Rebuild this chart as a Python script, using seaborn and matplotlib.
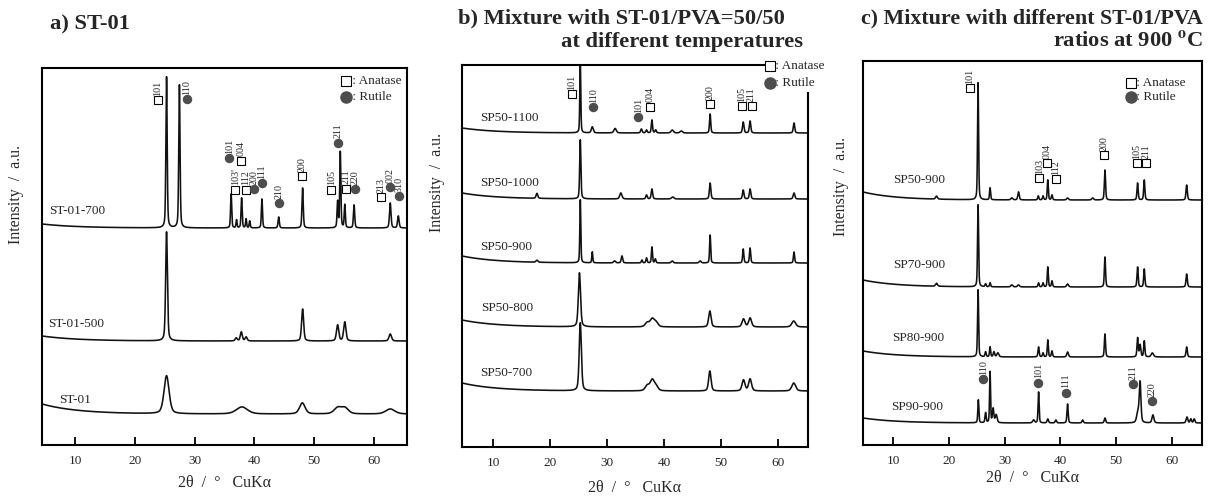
import numpy as np
import pandas as pd
import matplotlib
matplotlib.use("Agg")
import matplotlib.pyplot as plt
import seaborn as sns

sns.set_theme(style="white")
plt.rcParams['font.family'] = ['Liberation Serif', 'DejaVu Serif']
plt.rcParams['mathtext.fontset'] = 'stix'

# ---------------- data (2θ in degrees, intensity in arbitrary units) ----------------
# Panel a) ST-01
a_names = ["ST-01-700", "ST-01-500", "ST-01"]
a_base = [217, 104, 31]
a_rise = [4, 5, 10]
st01_700_pos = [25.3, 27.45, 36.1, 37.0, 37.85, 38.6, 39.2, 41.25, 44.05, 48.05, 53.9, 54.35, 55.1, 56.65, 62.7, 64.05]
st01_700_h = [151, 143, 34, 8, 30, 9, 7, 29, 11, 40, 26, 76, 23, 23, 25, 12]
st01_700_w = [0.25, 0.25, 0.22, 0.2, 0.22, 0.2, 0.2, 0.22, 0.25, 0.25, 0.22, 0.22, 0.22, 0.25, 0.3, 0.3]
st01_500_pos = [25.3, 36.95, 37.8, 38.6, 48.05, 53.9, 55.1, 62.7]
st01_500_h = [109, 3, 9, 4, 32, 16, 19, 7]
st01_500_w = [0.35, 0.4, 0.4, 0.4, 0.4, 0.45, 0.45, 0.5]
st01_pos = [25.3, 37.9, 48.0, 53.9, 55.1, 62.7]
st01_h = [38, 7, 11, 6, 6, 5]
st01_w = [1.0, 2.2, 1.1, 1.4, 1.4, 1.8]

# Panel b) ST-01/PVA = 50/50 at different temperatures
b_names = ["SP50-1100", "SP50-1000", "SP50-900", "SP50-800", "SP50-700"]
b_base = [314, 248, 184, 120, 56]
b_rise = [5, 6, 7, 7, 8]
sp50_1100_pos = [25.3, 27.4, 31.4, 36.0, 36.9, 37.85, 38.5, 41.4, 43.0, 48.05, 53.85, 55.05, 62.75]
sp50_1100_h = [72, 6, 4.5, 4, 3, 13, 3, 3, 2, 19, 11, 12, 10]
sp50_1100_w = [0.2, 0.4, 0.5, 0.3, 0.3, 0.25, 0.3, 0.5, 0.5, 0.25, 0.3, 0.3, 0.3]
sp50_1000_pos = [17.7, 25.3, 32.4, 36.9, 37.85, 41.5, 48.05, 53.85, 55.05, 62.75]
sp50_1000_h = [5, 59, 6, 4, 10, 2, 16, 9, 10, 6]
sp50_1000_w = [0.35, 0.25, 0.45, 0.3, 0.3, 0.5, 0.3, 0.3, 0.3, 0.35]
sp50_900b_pos = [17.7, 25.3, 27.4, 31.3, 32.6, 36.1, 36.9, 37.85, 38.45, 41.4, 46.3, 48.05, 53.85, 55.05, 62.75]
sp50_900b_h = [2, 63, 11, 2, 7, 3, 5, 16, 4, 2, 2, 28, 14, 15, 11]
sp50_900b_w = [0.4, 0.2, 0.2, 0.4, 0.3, 0.25, 0.25, 0.22, 0.25, 0.4, 0.4, 0.22, 0.25, 0.25, 0.25]
sp50_800_pos = [25.15, 37.0, 37.9, 38.6, 48.0, 53.9, 55.05, 62.7]
sp50_800_h = [54, 4, 8, 4, 16, 8, 9, 6]
sp50_800_w = [0.45, 0.8, 0.9, 0.8, 0.5, 0.6, 0.6, 0.8]
sp50_700_pos = [25.3, 37.0, 37.9, 38.6, 48.0, 53.9, 55.05, 62.7]
sp50_700_h = [68, 5, 11, 4, 20, 11, 12, 8]
sp50_700_w = [0.45, 0.8, 0.9, 0.8, 0.5, 0.6, 0.6, 0.8]

# Panel c) different ST-01/PVA ratios at 900 °C
c_names = ["SP50-900", "SP70-900", "SP80-900", "SP90-900"]
c_base = [245, 158, 88, 22]
c_rise = [8, 7, 6, 5]
sp50_900c_pos = [17.8, 25.25, 27.4, 31.3, 32.5, 36.05, 36.9, 37.75, 38.5, 41.3, 45.8, 48.0, 53.85, 55.05, 62.65]
sp50_900c_h = [3, 117, 12, 2, 8, 4, 4, 20, 5, 2, 2, 30, 17, 20, 15]
sp50_900c_w = [0.4, 0.22, 0.22, 0.4, 0.3, 0.25, 0.25, 0.22, 0.25, 0.4, 0.4, 0.25, 0.25, 0.25, 0.28]
sp70_900_pos = [17.8, 25.25, 26.6, 27.4, 31.3, 32.5, 36.1, 36.9, 37.75, 38.5, 41.3, 48.0, 53.85, 55.05, 62.65]
sp70_900_h = [3, 82, 3, 4, 2, 2, 4, 4, 20, 6, 3, 30, 20, 18, 13]
sp70_900_w = [0.4, 0.22, 0.25, 0.22, 0.4, 0.4, 0.25, 0.25, 0.22, 0.25, 0.4, 0.25, 0.25, 0.25, 0.28]
sp80_900_pos = [25.25, 26.6, 27.4, 28.1, 28.8, 36.1, 36.9, 37.75, 38.5, 41.3, 48.0, 53.85, 54.3, 55.05, 56.5, 62.65]
sp80_900_h = [67, 5, 10, 5, 4, 10, 4, 17, 6, 5, 23, 19, 12, 16, 4, 10]
sp80_900_w = [0.22, 0.25, 0.22, 0.3, 0.4, 0.25, 0.25, 0.22, 0.25, 0.35, 0.25, 0.25, 0.3, 0.25, 0.5, 0.28]
sp90_900_pos = [25.3, 26.6, 27.4, 27.95, 28.5, 35.2, 36.1, 37.75, 39.2, 41.3, 44.0, 48.0, 53.9, 54.3, 56.6, 62.7, 63.4, 64.0]
sp90_900_h = [23, 10, 51, 14, 8, 3, 31, 4, 3, 19, 3, 5, 10, 40, 8, 6, 4, 4]
sp90_900_w = [0.22, 0.25, 0.2, 0.3, 0.4, 0.4, 0.22, 0.3, 0.3, 0.25, 0.3, 0.3, 0.5, 0.35, 0.4, 0.35, 0.3, 0.3]

# curve labels (position in 2θ / intensity units)
a_label_x = [5.65, 5.49, 7.32]
a_label_y = [234, 121, 45]
b_label_x = [7.72, 7.72, 7.72, 7.85, 7.72]
b_label_y = [328.7, 263.7, 200.3, 138.7, 73.7]
c_label_x = [9.95, 9.95, 9.77, 9.59]
c_label_y = [265, 180, 106.7, 38.3]

# reflection markers: phase ('A' anatase, 'R' rutile), hkl, 2θ, height
a_ref_phase = ['A', 'R', 'R', 'A', 'A', 'A', 'R', 'R', 'R', 'A', 'A', 'R', 'A', 'R', 'A', 'R', 'R']
a_ref_hkl = ['101', '110', '101', '004', "103'", '112', '200', '111', '210', '200', '105', '211', '211', '220', '213', '002', '310']
a_ref_x = [23.83, 28.68, 35.80, 37.79, 36.79, 38.51, 39.88, 41.24, 44.16, 48.01, 52.84, 53.95, 55.37, 56.86, 61.22, 62.73, 64.11]
a_ref_y = [345, 345.7, 286.7, 284.3, 255.5, 255.5, 255.7, 262, 241.7, 269, 255.5, 302.3, 256.2, 255.7, 248, 257.7, 249]

b_ref_phase = ['A', 'R', 'R', 'A', 'A', 'A', 'A']
b_ref_hkl = ['101', '110', '101', '004', '200', '105', '211']
b_ref_x = [23.78, 27.57, 35.45, 37.50, 48.00, 53.56, 55.31]
b_ref_y = [353, 339.7, 329.7, 340.3, 342.7, 341, 341]

c_ref_phase = ['A', 'A', 'A', 'A', 'A', 'A', 'A', 'R', 'R', 'R', 'R', 'R']
c_ref_hkl = ['101', '103', '004', '112', '200', '105', '211', '110', '101', '111', '211', '220']
c_ref_x = [23.80, 36.22, 37.65, 39.16, 47.87, 53.67, 55.34, 26.18, 36.04, 41.0, 53.07, 56.47]
c_ref_y = [356.7, 266.7, 281.7, 266, 290, 281.7, 281.7, 65.7, 62.3, 52.3, 60.7, 44]

legend_text = [" : Anatase", " : Rutile"]
x_ticks = [10, 20, 30, 40, 50, 60]

# ---------------- figure ----------------
W, H = 1209, 498
fig = plt.figure(figsize=(W / 100, H / 100), dpi=100)


def add_axes(l, r, t, b):
    return fig.add_axes([l / W, (H - b) / H, (r - l) / W, (b - t) / H])


ax_a = add_axes(42, 407, 68, 445)
ax_b = add_axes(462, 808, 65, 447)
ax_c = add_axes(863, 1202, 61, 445)

limits = {
    'a': ((4.48, 65.5), (0, 377)),
    'b': ((4.57, 65.2), (0, 382)),
    'c': ((4.62, 65.4), (0, 384)),
}

RUTILE = '#4d4d4d'


def profile(x, base, rise, pos, h, w):
    y = base + rise * np.exp(-(x - x[0]) / 6.0)
    for p, hh, ww in zip(pos, h, w):
        d = (x - p) / ww
        y = y + hh * (0.6 * np.exp(-4 * np.log(2) * d ** 2) + 0.4 / (1 + 4 * d ** 2))
    return y


def draw_panel(ax, key, names, bases, rises, peaks, lab_x, lab_y,
               ref_phase, ref_hkl, ref_x, ref_y, legend_xy):
    (x0, x1), (y0, y1) = limits[key]
    x = np.arange(x0, x1, 0.01)
    frames = []
    for name, base, rise, (pos, h, w) in zip(names, bases, rises, peaks):
        frames.append(pd.DataFrame({'two_theta': x,
                                    'intensity': profile(x, base, rise, pos, h, w),
                                    'sample': name}))
    df = pd.concat(frames, ignore_index=True)
    sns.lineplot(data=df, x='two_theta', y='intensity', units='sample',
                 estimator=None, color='#111111', lw=1.15, ax=ax, legend=False)
    for name, lx, ly in zip(names, lab_x, lab_y):
        ax.text(lx, ly, name, ha='left', va='center', fontsize=9.5)
    for ph, hkl, rx, ry in zip(ref_phase, ref_hkl, ref_x, ref_y):
        if ph == 'A':
            ax.plot(rx, ry, marker='s', ms=5.4, mfc='white', mec='black', mew=0.8,
                    clip_on=False, zorder=5)
        else:
            ax.plot(rx, ry, marker='o', ms=5.8, mfc=RUTILE, mec=RUTILE,
                    clip_on=False, zorder=5)
        ax.text(rx, ry + 4.5, hkl, rotation=90, ha='center', va='bottom',
                fontsize=7.2, clip_on=False)
    (lx, ly1, ly2, tx) = legend_xy
    ax.plot(lx, ly1, marker='s', ms=7, mfc='white', mec='black', mew=0.8, clip_on=False, zorder=5)
    ax.plot(lx, ly2, marker='o', ms=8, mfc=RUTILE, mec=RUTILE, clip_on=False, zorder=5)
    ax.text(tx, ly1, legend_text[0], ha='left', va='center', fontsize=9.5, clip_on=False)
    ax.text(tx, ly2, legend_text[1], ha='left', va='center', fontsize=9.5, clip_on=False)

    ax.set_xlim(x0, x1)
    ax.set_ylim(y0, y1)
    ax.set_xticks(x_ticks)
    ax.set_xticklabels([str(t) for t in x_ticks])
    ax.set_yticks([])
    ax.tick_params(axis='x', direction='in', length=6, width=1.3, color='black',
                   labelsize=9.5, pad=7, bottom=True, top=False)
    for sp in ax.spines.values():
        sp.set_visible(True)
        sp.set_color('black')
        sp.set_linewidth(1.5)
    ax.set_xlabel("2θ  /  °   CuKα", fontsize=11.5)
    ax.set_ylabel("Intensity  /  a.u.", fontsize=11.5)


draw_panel(ax_a, 'a', a_names, a_base, a_rise,
           [(st01_700_pos, st01_700_h, st01_700_w),
            (st01_500_pos, st01_500_h, st01_500_w),
            (st01_pos, st01_h, st01_w)],
           a_label_x, a_label_y, a_ref_phase, a_ref_hkl, a_ref_x, a_ref_y,
           (55.32, 364.3, 347.7, 55.75))
draw_panel(ax_b, 'b', b_names, b_base, b_rise,
           [(sp50_1100_pos, sp50_1100_h, sp50_1100_w),
            (sp50_1000_pos, sp50_1000_h, sp50_1000_w),
            (sp50_900b_pos, sp50_900b_h, sp50_900b_w),
            (sp50_800_pos, sp50_800_h, sp50_800_w),
            (sp50_700_pos, sp50_700_h, sp50_700_w)],
           b_label_x, b_label_y, b_ref_phase, b_ref_hkl, b_ref_x, b_ref_y,
           (58.5, 381, 363.7, 58.95))
draw_panel(ax_c, 'c', c_names, c_base, c_rise,
           [(sp50_900c_pos, sp50_900c_h, sp50_900c_w),
            (sp70_900_pos, sp70_900_h, sp70_900_w),
            (sp80_900_pos, sp80_900_h, sp80_900_w),
            (sp90_900_pos, sp90_900_h, sp90_900_w)],
           c_label_x, c_label_y, c_ref_phase, c_ref_hkl, c_ref_x, c_ref_y,
           (52.6, 362.3, 347.7, 53.05))

# panel b frame is open at the top-right corner where the legend sits
ax_b.spines['top'].set_bounds(4.57, 57.8)
ax_b.spines['right'].set_bounds(0, 354)

# axis label positions (axes coordinates)
ax_a.xaxis.set_label_coords(0.5, (445 - 483) / 377)
ax_b.xaxis.set_label_coords(0.5, (447 - 488) / 382)
ax_c.xaxis.set_label_coords(0.5, (445 - 478) / 384)
ax_a.yaxis.set_label_coords((16 - 42) / 365, (445 - 194) / 377)
ax_b.yaxis.set_label_coords((437 - 462) / 346, (447 - 182) / 382)
ax_c.yaxis.set_label_coords((841 - 863) / 339, (445 - 186) / 384)
for ax in (ax_a, ax_b, ax_c):
    ax.xaxis.label.set_va('center')
    ax.yaxis.label.set_va('center')

# panel titles
tkw = dict(fontsize=16.2, fontweight='bold')
fig.text(50 / W, 1 - 24 / H, "a) ST-01", ha='left', va='center', **tkw)
fig.text(458 / W, 1 - 18 / H, "b) Mixture with ST-01/PVA=50/50", ha='left', va='center', **tkw)
fig.text(803 / W, 1 - 42 / H, "at different temperatures", ha='right', va='center', **tkw)
fig.text(1203 / W, 1 - 18 / H, "c) Mixture with different ST-01/PVA", ha='right', va='center',
         fontsize=15.8, fontweight='bold')
fig.text(1203 / W, 1 - 42 / H, r"ratios at 900 $^{\mathbf{o}}$C", ha='right', va='center', **tkw)

fig.savefig("out.png", dpi=100, facecolor='white')
